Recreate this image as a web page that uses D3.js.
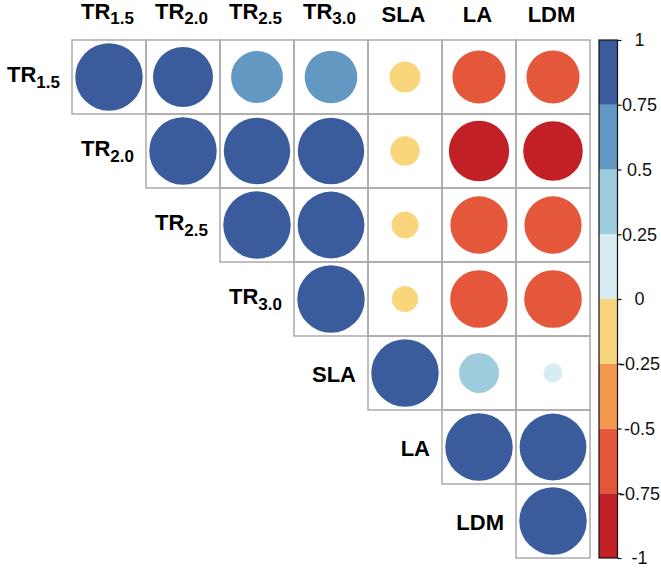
<!DOCTYPE html>
<html>
<head>
<meta charset="utf-8">
<script src="https://cdn.jsdelivr.net/npm/d3@7"></script>
<style>
body { margin: 0; background: #fff; }
text { font-family: "Liberation Sans", Arial, sans-serif; }
</style>
</head>
<body>
<script>
// variable labels: main part + subscript
var labelMain = ["TR", "TR", "TR", "TR", "SLA", "LA", "LDM"];
var labelSub = ["1.5", "2.0", "2.5", "3.0", "", "", ""];

// correlation matrix rows (only upper triangle is drawn)
var rowTR15 = [1, 0.79, 0.59, 0.61, -0.21, -0.62, -0.62];
var rowTR20 = [0.79, 1, 0.97, 0.97, -0.19, -0.80, -0.78];
var rowTR25 = [0.59, 0.97, 1, 0.98, -0.16, -0.72, -0.72];
var rowTR30 = [0.61, 0.97, 0.98, 1, -0.15, -0.73, -0.73];
var rowSLA = [-0.21, -0.19, -0.16, -0.15, 1, 0.35, 0.08];
var rowLA = [-0.62, -0.80, -0.72, -0.73, 0.35, 1, 0.98];
var rowLDM = [-0.62, -0.78, -0.72, -0.73, 0.08, 0.98, 1];
var matrix = [rowTR15, rowTR20, rowTR25, rowTR30, rowSLA, rowLA, rowLDM];

// colour legend
var legendTicks = [1, 0.75, 0.5, 0.25, 0, -0.25, -0.5, -0.75, -1];
var binColors = ["#C02026", "#E4573A", "#F2984E", "#F9D57C", "#D8ECF3", "#9ECCDD", "#6298C2", "#3A5B9C"];

var width = 661, height = 568;
var idx = d3.range(labelMain.length);

var svg = d3.select("body").append("svg")
	.attr("width", width)
	.attr("height", height);

var x = d3.scaleBand().domain(idx).range([72, 590]);
var y = d3.scaleBand().domain(idx).range([40, 558]);
var r = d3.scaleSqrt().domain([0, 1]).range([0, x.bandwidth() * 0.456]);
var color = d3.scaleThreshold()
	.domain([-0.75, -0.5, -0.25, 0, 0.25, 0.5, 0.75])
	.range(binColors);

var cells = [];
matrix.forEach(function(row, i) {
	row.forEach(function(v, j) {
		if (j >= i) cells.push({i: i, j: j, v: v});
	});
});

svg.selectAll(".cell")
	.data(cells)
	.enter().append("rect")
	.attr("class", "cell")
	.attr("x", function(d) { return x(d.j); })
	.attr("y", function(d) { return y(d.i); })
	.attr("width", x.bandwidth())
	.attr("height", y.bandwidth())
	.attr("fill", "none")
	.attr("stroke", "#ababab")
	.attr("stroke-width", 1.5);

svg.selectAll(".dot")
	.data(cells)
	.enter().append("circle")
	.attr("class", "dot")
	.attr("cx", function(d) { return x(d.j) + x.bandwidth() / 2; })
	.attr("cy", function(d) { return y(d.i) + y.bandwidth() / 2; })
	.attr("r", function(d) { return r(Math.abs(d.v)); })
	.attr("fill", function(d) { return color(d.v); });

function addLabel(sel, i) {
	sel.append("tspan").text(labelMain[i]);
	if (labelSub[i]) {
		sel.append("tspan")
			.attr("font-size", 17)
			.attr("dy", 5.5)
			.text(labelSub[i]);
	}
}

// column labels
idx.forEach(function(i) {
	var t = svg.append("text")
		.attr("x", x(i) + x.bandwidth() / 2 - 1.5)
		.attr("y", labelSub[i] ? 18.5 : 21.7)
		.attr("text-anchor", "middle")
		.attr("font-size", 22)
		.attr("font-weight", "bold");
	addLabel(t, i);
});

// row labels
idx.forEach(function(i) {
	var t = svg.append("text")
		.attr("x", x(i) - 12)
		.attr("y", y(i) + y.bandwidth() / 2 + (labelSub[i] ? 5 : 8.5))
		.attr("text-anchor", "end")
		.attr("font-size", 22)
		.attr("font-weight", "bold");
	addLabel(t, i);
});

// colour bar
var cy = d3.scaleLinear().domain([-1, 1]).range([558, 40]);
var bins = d3.range(binColors.length).map(function(k) {
	return {lo: -1 + k * 0.25, hi: -1 + (k + 1) * 0.25, c: binColors[k]};
});
var barX = 599, barW = 18.5;

svg.selectAll(".bin")
	.data(bins)
	.enter().append("rect")
	.attr("class", "bin")
	.attr("x", barX)
	.attr("y", function(d) { return cy(d.hi); })
	.attr("width", barW)
	.attr("height", function(d) { return cy(d.lo) - cy(d.hi); })
	.attr("fill", function(d) { return d.c; });

svg.append("rect")
	.attr("x", barX)
	.attr("y", cy(1))
	.attr("width", barW)
	.attr("height", cy(-1) - cy(1))
	.attr("fill", "none")
	.attr("stroke", "#111")
	.attr("stroke-width", 1.2);

var axis = svg.append("g")
	.attr("transform", "translate(" + (barX + barW) + ",0)")
	.call(d3.axisRight(cy)
		.tickValues(legendTicks)
		.tickSize(4)
		.tickFormat(function(d) { return String(d); }));
axis.select(".domain").remove();
axis.selectAll(".tick line").attr("stroke", "#111").attr("stroke-width", 1.2);
axis.selectAll(".tick text")
	.attr("x", 22)
	.attr("text-anchor", "middle")
	.attr("font-size", 18)
	.attr("font-family", "Liberation Sans, Arial, sans-serif")
	.attr("fill", "#111");
</script>
</body>
</html>
